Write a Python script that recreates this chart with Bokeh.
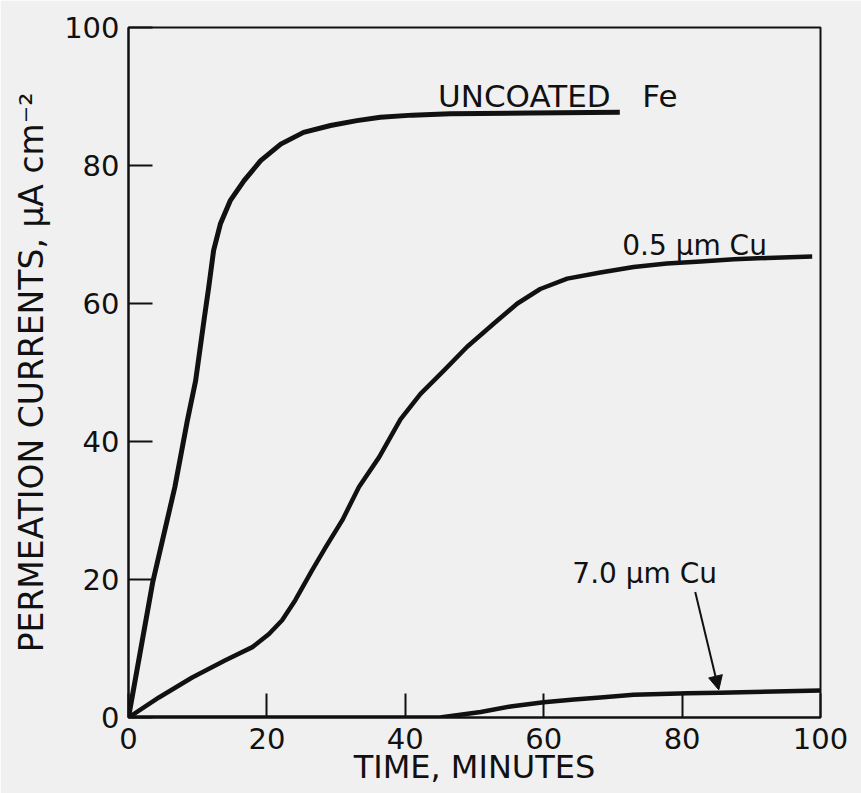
from bokeh.plotting import figure
from bokeh.models import Range1d, FixedTicker, Arrow, NormalHead, ColumnDataSource
from bokeh.core.properties import value
from bokeh.embed import file_html
from bokeh.resources import INLINE

# ---- data ----
x_ticks = [0, 20, 40, 60, 80, 100]
y_ticks = [0, 20, 40, 60, 80, 100]

fe_t = [0, 3.5, 6.7, 8.5, 9.7, 10.9, 11.6, 12.3, 13.3, 14.7, 16.7, 19.1, 22.0, 25.3,
        29.2, 33.0, 36.4, 41.0, 46.5, 58.0, 71.0]
fe_i = [0, 19.6, 33.4, 43.0, 48.8, 57.5, 62.4, 67.7, 71.6, 74.9, 77.8, 80.7, 83.1, 84.8,
        85.8, 86.5, 87.0, 87.3, 87.5, 87.6, 87.7]

cu05_t = [0, 4.4, 9.2, 14.0, 17.9, 20.3, 22.2, 24.1, 26.5, 28.5, 30.9, 33.3, 36.2, 39.3,
          42.2, 45.6, 48.9, 52.8, 56.2, 59.5, 63.4, 68.2, 73.0, 77.8, 82.7, 87.5, 92.3, 98.8]
cu05_i = [0, 2.9, 5.8, 8.3, 10.2, 12.1, 14.1, 17.0, 21.3, 24.7, 28.6, 33.4, 37.7, 43.2,
          46.9, 50.3, 53.7, 57.1, 60.0, 62.1, 63.6, 64.5, 65.3, 65.8, 66.1, 66.4, 66.6, 66.8]

cu70_t = [0, 45, 50.9, 55.2, 60.0, 64.4, 68.2, 73.0, 80.8, 85.5, 100]
cu70_i = [0, 0, 0.8, 1.6, 2.2, 2.6, 2.9, 3.3, 3.5, 3.6, 3.9]

label_texts = ["UNCOATED", "Fe", "0.5 µm Cu", "7.0 µm Cu"]
label_x = [57.2, 76.8, 81.8, 74.6]
label_y = [90.1, 90.1, 68.4, 20.9]
label_sizes = ["31px", "31px", "28px", "28px"]

arrow_from = (81.9, 18.2)
arrow_to = (85.3, 4.0)

FONT = "DejaVu Sans"
INK = "#111111"
BG = "#f0f0f0"

p = figure(width=861, height=793,
           x_range=Range1d(0, 100), y_range=Range1d(0, 100),
           output_backend="svg", toolbar_location=None,
           min_border_left=128, min_border_right=41,
           min_border_top=27, min_border_bottom=76,
           background_fill_color=BG, border_fill_color=BG)

p.grid.visible = False
p.outline_line_color = INK
p.outline_line_width = 2

for ax, ticks in ((p.xaxis, x_ticks), (p.yaxis, y_ticks)):
    ax.ticker = FixedTicker(ticks=ticks)
    ax.major_tick_in = 24
    ax.major_tick_out = 0
    ax.minor_tick_line_color = None
    ax.major_tick_line_width = 2
    ax.major_tick_line_color = INK
    ax.axis_line_width = 2
    ax.axis_line_color = INK
    ax.major_label_text_font = FONT
    ax.major_label_text_font_size = "29px"
    ax.major_label_text_color = INK
    ax.axis_label_text_font = FONT
    ax.axis_label_text_font_style = "normal"
    ax.axis_label_text_color = INK

p.xaxis.axis_label = "TIME, MINUTES"
p.xaxis.axis_label_text_font_size = "32px"
p.xaxis.major_label_standoff = 10
p.xaxis.axis_label_standoff = -4

p.yaxis.axis_label = "PERMEATION CURRENTS, µA cm⁻²"
p.yaxis.axis_label_text_font_size = "33px"
p.yaxis.major_label_standoff = 9
p.yaxis.axis_label_standoff = 10

p.line(fe_t, fe_i, line_color=INK, line_width=5, line_join="round")
p.line(cu05_t, cu05_i, line_color=INK, line_width=4.5, line_join="round")
p.line(cu70_t, cu70_i, line_color=INK, line_width=4.5, line_join="round")

for sz in sorted(set(label_sizes)):
    idx = [i for i, s in enumerate(label_sizes) if s == sz]
    src = ColumnDataSource(dict(x=[label_x[i] for i in idx],
                                y=[label_y[i] for i in idx],
                                text=[label_texts[i] for i in idx]))
    p.text(x="x", y="y", text="text", source=src,
           text_font=value(FONT), text_font_size=value(sz),
           text_color=INK, text_align="center", text_baseline="middle")

p.add_layout(Arrow(end=NormalHead(size=14, fill_color=INK, line_color=INK),
                   x_start=arrow_from[0], y_start=arrow_from[1],
                   x_end=arrow_to[0], y_end=arrow_to[1],
                   line_color=INK, line_width=2))

open("out.html", "w").write(file_html(p, INLINE))
